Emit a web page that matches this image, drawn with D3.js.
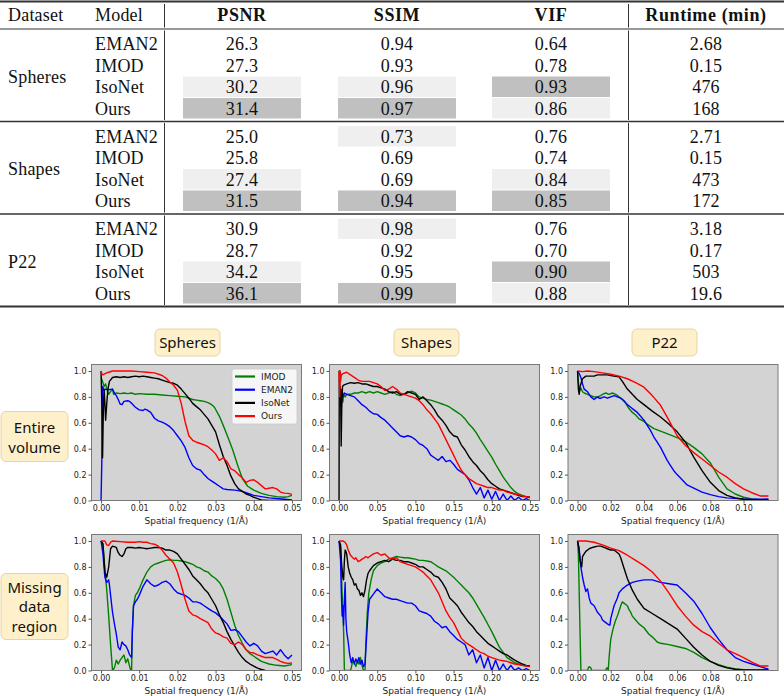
<!DOCTYPE html>
<html><head><meta charset="utf-8">
<script src="https://cdn.jsdelivr.net/npm/d3@7"></script>
<style>body{margin:0;background:#fff}svg{display:block}</style>
</head><body>
<svg id="c" width="784" height="696"></svg>
<script>
// ---------------- TABLE DATA ----------------
const datasets = ["Spheres", "Shapes", "P22"];
const models = ["EMAN2", "IMOD", "IsoNet", "Ours"];
const headers = ["PSNR", "SSIM", "VIF", "Runtime (min)"];
const psnr = [[26.3, 27.3, 30.2, 31.4], [25.0, 25.8, 27.4, 31.5], [30.9, 28.7, 34.2, 36.1]];
const ssim = [[0.94, 0.93, 0.96, 0.97], [0.73, 0.69, 0.69, 0.94], [0.98, 0.92, 0.95, 0.99]];
const vif = [[0.64, 0.78, 0.93, 0.86], [0.76, 0.74, 0.84, 0.85], [0.76, 0.70, 0.90, 0.88]];
const runtime = [["2.68", "0.15", "476", "168"], ["2.71", "0.15", "473", "172"], ["3.18", "0.17", "503", "19.6"]];

// ---------------- CURVE DATA ([frequency, value]) ----------------
const seriesNames = ["IMOD", "EMAN2", "IsoNet", "Ours"];
const panelCols = ["Spheres", "Shapes", "P22"];
const panelRows = [["Entire", "volume"], ["Missing", "data", "region"]];
const xMax = [0.05, 0.25, 0.115];
const xTicks = [[0, 0.01, 0.02, 0.03, 0.04, 0.05], [0, 0.05, 0.10, 0.15, 0.20, 0.25], [0, 0.02, 0.04, 0.06, 0.08, 0.10]];
const yTicks = [0, 0.2, 0.4, 0.6, 0.8, 1.0];

const sphVolIMOD = [[0,0.95],[0.0004,0.92],[0.0008,0.88],[0.0012,0.9],[0.0016,0.85],[0.002,0.82],[0.0025,0.84],[0.003,0.86],[0.0033,0.82],[0.004,0.83],[0.005,0.825],[0.006,0.83],[0.007,0.825],[0.008,0.83],[0.009,0.82],[0.01,0.825],[0.012,0.82],[0.014,0.82],[0.016,0.815],[0.018,0.81],[0.02,0.805],[0.022,0.8],[0.024,0.78],[0.025,0.775],[0.026,0.77],[0.027,0.765],[0.028,0.755],[0.029,0.74],[0.0297,0.72],[0.031,0.65],[0.032,0.58],[0.0332,0.49],[0.0345,0.39],[0.0358,0.27],[0.037,0.17],[0.0384,0.11],[0.04,0.08],[0.042,0.055],[0.044,0.04],[0.046,0.03],[0.048,0.025],[0.049,0.03],[0.05,0.04]];
const sphVolEMAN2 = [[0,0],[0.0002,0.3],[0.0004,0.88],[0.0008,0.85],[0.0012,0.86],[0.002,0.855],[0.003,0.86],[0.0035,0.83],[0.004,0.81],[0.0045,0.78],[0.005,0.745],[0.0055,0.74],[0.006,0.765],[0.007,0.77],[0.0075,0.765],[0.008,0.75],[0.009,0.72],[0.01,0.7],[0.011,0.695],[0.0115,0.705],[0.012,0.7],[0.013,0.68],[0.014,0.635],[0.015,0.615],[0.016,0.605],[0.017,0.59],[0.018,0.57],[0.019,0.54],[0.02,0.5],[0.021,0.46],[0.022,0.41],[0.023,0.33],[0.024,0.27],[0.025,0.245],[0.026,0.235],[0.027,0.2],[0.028,0.17],[0.029,0.15],[0.03,0.13],[0.031,0.11],[0.032,0.09],[0.033,0.085],[0.035,0.08],[0.037,0.07],[0.038,0.06],[0.04,0.04],[0.042,0.03],[0.044,0.02],[0.046,0.015],[0.048,0.01],[0.05,0.005]];
const sphVolIsoNet = [[0,1.0],[0.0002,0.75],[0.0004,0.33],[0.0006,0.7],[0.0008,0.86],[0.001,0.75],[0.0012,0.62],[0.0015,0.75],[0.0018,0.86],[0.0022,0.92],[0.003,0.95],[0.004,0.955],[0.005,0.95],[0.006,0.955],[0.007,0.95],[0.008,0.955],[0.009,0.96],[0.01,0.955],[0.011,0.96],[0.012,0.955],[0.013,0.95],[0.014,0.945],[0.015,0.94],[0.016,0.93],[0.017,0.92],[0.018,0.91],[0.019,0.905],[0.02,0.89],[0.021,0.86],[0.022,0.825],[0.023,0.79],[0.024,0.75],[0.025,0.725],[0.026,0.7],[0.027,0.665],[0.028,0.63],[0.029,0.58],[0.03,0.53],[0.031,0.43],[0.032,0.34],[0.033,0.27],[0.034,0.19],[0.035,0.13],[0.036,0.09],[0.037,0.07],[0.038,0.05],[0.039,0.04],[0.04,0.025],[0.041,0.015],[0.042,0.005],[0.044,0.0],[0.05,0.0]];
const sphVolOurs = [[0,1.0],[0.0003,0.97],[0.0008,0.975],[0.0015,0.985],[0.002,0.99],[0.003,1.0],[0.005,1.0],[0.008,1.0],[0.01,0.995],[0.012,0.99],[0.014,0.985],[0.016,0.965],[0.017,0.945],[0.018,0.915],[0.019,0.89],[0.02,0.85],[0.021,0.75],[0.022,0.61],[0.023,0.5],[0.024,0.465],[0.025,0.45],[0.026,0.44],[0.027,0.43],[0.028,0.415],[0.029,0.39],[0.03,0.36],[0.031,0.31],[0.032,0.33],[0.033,0.3],[0.034,0.245],[0.035,0.23],[0.036,0.2],[0.037,0.175],[0.038,0.14],[0.039,0.155],[0.04,0.16],[0.041,0.14],[0.042,0.115],[0.043,0.09],[0.044,0.095],[0.045,0.1],[0.046,0.09],[0.047,0.065],[0.048,0.057],[0.049,0.055],[0.05,0.047]];

const sphMisIMOD = [[0,1.0],[0.0005,0.97],[0.001,0.78],[0.0015,0.62],[0.002,0.42],[0.0025,0.2],[0.003,0.0],[0.0035,0.02],[0.004,0.08],[0.0045,0.05],[0.005,0.08],[0.0055,0.1],[0.006,0.12],[0.0065,0.06],[0.007,0.09],[0.0075,0.03],[0.0078,0.0],[0.008,0.0],[0.0082,0.3],[0.0085,0.5],[0.009,0.58],[0.0095,0.6],[0.01,0.63],[0.011,0.7],[0.012,0.76],[0.013,0.8],[0.014,0.82],[0.015,0.83],[0.016,0.84],[0.017,0.85],[0.018,0.855],[0.019,0.85],[0.02,0.85],[0.021,0.845],[0.022,0.84],[0.023,0.83],[0.024,0.82],[0.025,0.8],[0.026,0.79],[0.027,0.77],[0.028,0.76],[0.029,0.73],[0.03,0.71],[0.031,0.68],[0.032,0.63],[0.033,0.55],[0.034,0.45],[0.035,0.35],[0.036,0.27],[0.037,0.21],[0.038,0.16],[0.039,0.13],[0.04,0.11],[0.041,0.09],[0.042,0.07],[0.044,0.05],[0.046,0.04],[0.048,0.035],[0.05,0.045]];
const sphMisEMAN2 = [[0,1.0],[0.0005,0.9],[0.001,0.72],[0.0015,0.68],[0.002,0.7],[0.0022,0.66],[0.0025,0.58],[0.003,0.45],[0.0035,0.36],[0.004,0.28],[0.0045,0.18],[0.005,0.16],[0.0055,0.22],[0.006,0.2],[0.0065,0.19],[0.007,0.16],[0.0075,0.12],[0.008,0.1],[0.0082,0.3],[0.0085,0.5],[0.009,0.53],[0.0095,0.55],[0.01,0.58],[0.011,0.65],[0.012,0.7],[0.013,0.67],[0.014,0.65],[0.015,0.66],[0.016,0.68],[0.017,0.69],[0.018,0.67],[0.019,0.63],[0.02,0.6],[0.021,0.59],[0.022,0.58],[0.023,0.56],[0.024,0.53],[0.025,0.53],[0.026,0.52],[0.027,0.5],[0.028,0.48],[0.029,0.46],[0.03,0.445],[0.031,0.42],[0.032,0.39],[0.033,0.36],[0.034,0.31],[0.035,0.315],[0.036,0.3],[0.037,0.26],[0.038,0.22],[0.039,0.19],[0.04,0.21],[0.041,0.19],[0.042,0.15],[0.043,0.13],[0.044,0.14],[0.045,0.15],[0.046,0.12],[0.047,0.16],[0.048,0.12],[0.049,0.09],[0.05,0.12]];
const sphMisIsoNet = [[0,1.0],[0.0005,0.98],[0.001,0.76],[0.0015,0.72],[0.002,0.8],[0.0025,0.94],[0.003,0.96],[0.004,0.95],[0.0045,0.91],[0.005,0.89],[0.0055,0.88],[0.006,0.9],[0.0065,0.94],[0.007,0.95],[0.008,0.95],[0.009,0.945],[0.01,0.95],[0.011,0.945],[0.012,0.94],[0.013,0.945],[0.014,0.95],[0.015,0.95],[0.016,0.945],[0.017,0.93],[0.018,0.93],[0.019,0.92],[0.02,0.9],[0.021,0.86],[0.022,0.82],[0.023,0.78],[0.024,0.73],[0.025,0.7],[0.026,0.67],[0.027,0.63],[0.028,0.6],[0.029,0.55],[0.03,0.5],[0.031,0.43],[0.032,0.37],[0.033,0.3],[0.034,0.24],[0.035,0.19],[0.036,0.14],[0.037,0.1],[0.038,0.07],[0.039,0.05],[0.04,0.033],[0.041,0.018],[0.042,0.008],[0.043,0.0]];
const sphMisOurs = [[0,1.0],[0.001,1.0],[0.0015,0.97],[0.002,0.965],[0.0025,0.99],[0.003,1.0],[0.005,0.995],[0.007,0.99],[0.009,0.99],[0.01,0.995],[0.011,0.99],[0.012,0.99],[0.013,0.98],[0.014,0.975],[0.015,0.96],[0.016,0.93],[0.017,0.89],[0.018,0.86],[0.019,0.83],[0.02,0.76],[0.021,0.66],[0.022,0.55],[0.023,0.46],[0.024,0.43],[0.025,0.42],[0.026,0.4],[0.027,0.385],[0.028,0.37],[0.029,0.32],[0.03,0.29],[0.031,0.28],[0.032,0.26],[0.033,0.25],[0.034,0.21],[0.035,0.2],[0.036,0.22],[0.037,0.2],[0.038,0.16],[0.039,0.14],[0.04,0.135],[0.041,0.12],[0.042,0.11],[0.043,0.1],[0.044,0.1],[0.045,0.1],[0.046,0.085],[0.047,0.07],[0.048,0.06],[0.049,0.055],[0.05,0.058]];

const shpVolIMOD = [[0.002,0.78],[0.003,0.8],[0.004,0.84],[0.005,0.76],[0.006,0.82],[0.008,0.8],[0.01,0.82],[0.015,0.82],[0.02,0.83],[0.025,0.83],[0.03,0.84],[0.035,0.83],[0.04,0.84],[0.045,0.83],[0.05,0.84],[0.055,0.83],[0.06,0.82],[0.065,0.83],[0.07,0.84],[0.075,0.82],[0.08,0.81],[0.085,0.82],[0.09,0.83],[0.095,0.845],[0.1,0.83],[0.105,0.8],[0.11,0.79],[0.115,0.78],[0.12,0.775],[0.125,0.765],[0.13,0.755],[0.135,0.745],[0.14,0.735],[0.145,0.72],[0.15,0.7],[0.155,0.68],[0.16,0.66],[0.165,0.63],[0.17,0.59],[0.175,0.56],[0.18,0.52],[0.185,0.47],[0.19,0.425],[0.195,0.38],[0.2,0.335],[0.205,0.28],[0.21,0.23],[0.215,0.18],[0.22,0.14],[0.225,0.1],[0.23,0.07],[0.235,0.05],[0.24,0.04],[0.245,0.03],[0.25,0.02]];
const shpVolEMAN2 = [[0.001,0.8],[0.002,0.78],[0.003,0.82],[0.004,0.86],[0.005,0.8],[0.007,0.83],[0.01,0.82],[0.015,0.81],[0.02,0.8],[0.025,0.77],[0.03,0.74],[0.035,0.72],[0.04,0.69],[0.045,0.67],[0.05,0.665],[0.055,0.64],[0.06,0.62],[0.065,0.59],[0.07,0.56],[0.075,0.53],[0.08,0.5],[0.085,0.49],[0.09,0.5],[0.095,0.49],[0.1,0.47],[0.105,0.44],[0.11,0.425],[0.115,0.4],[0.12,0.35],[0.125,0.33],[0.13,0.31],[0.135,0.34],[0.14,0.3],[0.145,0.31],[0.15,0.28],[0.155,0.24],[0.16,0.22],[0.165,0.2],[0.17,0.16],[0.175,0.1],[0.18,0.05],[0.185,0.1],[0.19,0.02],[0.195,0.08],[0.2,0.01],[0.205,0.07],[0.21,0.0],[0.215,0.05],[0.22,0.0],[0.225,0.035],[0.23,0.0],[0.235,0.025],[0.24,0.0],[0.245,0.015],[0.25,0.0]];
const shpVolIsoNet = [[0,0.0],[0.0003,1.0],[0.001,0.88],[0.002,0.85],[0.0028,0.42],[0.0035,0.7],[0.0045,0.88],[0.006,0.89],[0.01,0.9],[0.015,0.91],[0.02,0.905],[0.025,0.91],[0.03,0.9],[0.035,0.9],[0.04,0.89],[0.045,0.88],[0.05,0.88],[0.055,0.87],[0.06,0.86],[0.065,0.84],[0.07,0.83],[0.075,0.84],[0.08,0.82],[0.085,0.82],[0.09,0.84],[0.095,0.83],[0.1,0.82],[0.105,0.78],[0.11,0.8],[0.115,0.77],[0.12,0.74],[0.125,0.7],[0.13,0.65],[0.135,0.62],[0.14,0.58],[0.145,0.53],[0.15,0.5],[0.155,0.49],[0.16,0.43],[0.165,0.39],[0.17,0.34],[0.175,0.3],[0.18,0.27],[0.185,0.23],[0.19,0.2],[0.195,0.16],[0.2,0.13],[0.205,0.11],[0.21,0.09],[0.215,0.08],[0.22,0.07],[0.225,0.06],[0.23,0.05],[0.235,0.04],[0.24,0.03],[0.245,0.03],[0.25,0.025]];
const shpVolOurs = [[0,1.0],[0.001,0.8],[0.0015,1.0],[0.002,0.92],[0.003,0.97],[0.005,0.98],[0.01,0.99],[0.015,0.97],[0.02,0.95],[0.025,0.93],[0.03,0.92],[0.035,0.92],[0.04,0.92],[0.045,0.91],[0.05,0.9],[0.055,0.88],[0.06,0.85],[0.065,0.86],[0.07,0.88],[0.075,0.86],[0.08,0.83],[0.085,0.82],[0.09,0.81],[0.095,0.8],[0.1,0.79],[0.105,0.77],[0.11,0.74],[0.115,0.7],[0.12,0.67],[0.125,0.63],[0.13,0.59],[0.135,0.53],[0.14,0.47],[0.145,0.41],[0.15,0.35],[0.155,0.29],[0.16,0.235],[0.165,0.2],[0.17,0.17],[0.175,0.15],[0.18,0.13],[0.185,0.12],[0.19,0.11],[0.195,0.1],[0.2,0.1],[0.205,0.09],[0.21,0.08],[0.215,0.08],[0.22,0.065],[0.225,0.06],[0.23,0.05],[0.235,0.045],[0.24,0.035],[0.245,0.03],[0.25,0.025]];

const shpMisIMOD = [[0,1.0],[0.002,0.95],[0.003,0.8],[0.004,0.6],[0.005,0.45],[0.006,0.3],[0.007,0.0],[0.015,0.0],[0.016,0.02],[0.018,0.08],[0.02,0.06],[0.022,0.03],[0.024,0.07],[0.026,0.05],[0.028,0.1],[0.03,0.04],[0.032,0.0],[0.034,0.0],[0.035,0.2],[0.037,0.45],[0.039,0.6],[0.042,0.7],[0.045,0.77],[0.05,0.81],[0.055,0.83],[0.06,0.84],[0.065,0.86],[0.07,0.87],[0.075,0.88],[0.08,0.875],[0.085,0.87],[0.09,0.87],[0.095,0.865],[0.1,0.86],[0.105,0.85],[0.11,0.85],[0.115,0.845],[0.12,0.84],[0.125,0.82],[0.13,0.8],[0.135,0.785],[0.14,0.77],[0.145,0.745],[0.15,0.72],[0.155,0.69],[0.16,0.66],[0.165,0.63],[0.17,0.6],[0.175,0.56],[0.18,0.51],[0.185,0.46],[0.19,0.41],[0.195,0.355],[0.2,0.3],[0.205,0.24],[0.21,0.18],[0.215,0.14],[0.22,0.1],[0.225,0.08],[0.23,0.06],[0.235,0.05],[0.24,0.04],[0.245,0.035],[0.25,0.03]];
const shpMisEMAN2 = [[0,1.0],[0.002,0.85],[0.003,0.6],[0.004,0.42],[0.005,0.5],[0.006,0.35],[0.007,0.55],[0.008,0.68],[0.009,0.4],[0.01,0.3],[0.012,0.22],[0.014,0.12],[0.016,0.06],[0.018,0.1],[0.02,0.05],[0.022,0.09],[0.024,0.06],[0.026,0.1],[0.028,0.05],[0.03,0.08],[0.032,0.03],[0.034,0.05],[0.036,0.25],[0.038,0.45],[0.04,0.55],[0.045,0.59],[0.05,0.63],[0.055,0.6],[0.06,0.57],[0.065,0.56],[0.07,0.55],[0.075,0.55],[0.08,0.54],[0.085,0.53],[0.09,0.52],[0.095,0.52],[0.1,0.5],[0.105,0.46],[0.11,0.45],[0.115,0.44],[0.12,0.42],[0.125,0.38],[0.13,0.36],[0.135,0.33],[0.14,0.34],[0.145,0.3],[0.15,0.27],[0.155,0.24],[0.16,0.22],[0.165,0.2],[0.17,0.12],[0.175,0.16],[0.18,0.06],[0.185,0.12],[0.19,0.02],[0.195,0.1],[0.2,0.0],[0.205,0.08],[0.21,0.0],[0.215,0.05],[0.22,0.0],[0.225,0.04],[0.23,0.0],[0.235,0.02],[0.24,0.0],[0.245,0.015],[0.25,0.0]];
const shpMisIsoNet = [[0,1.0],[0.002,0.97],[0.003,0.85],[0.004,0.78],[0.005,0.72],[0.006,0.7],[0.007,0.85],[0.008,0.93],[0.009,0.92],[0.01,0.9],[0.011,0.85],[0.012,0.8],[0.014,0.75],[0.016,0.72],[0.018,0.7],[0.02,0.66],[0.022,0.67],[0.024,0.63],[0.026,0.62],[0.028,0.58],[0.03,0.6],[0.032,0.57],[0.034,0.62],[0.036,0.7],[0.038,0.75],[0.04,0.77],[0.045,0.81],[0.05,0.83],[0.055,0.84],[0.06,0.85],[0.065,0.84],[0.07,0.86],[0.075,0.85],[0.08,0.85],[0.085,0.84],[0.09,0.84],[0.095,0.83],[0.1,0.82],[0.105,0.8],[0.11,0.8],[0.115,0.78],[0.12,0.76],[0.125,0.73],[0.13,0.72],[0.135,0.68],[0.14,0.63],[0.145,0.56],[0.15,0.53],[0.155,0.5],[0.16,0.45],[0.165,0.41],[0.17,0.37],[0.175,0.34],[0.18,0.3],[0.185,0.27],[0.19,0.24],[0.195,0.21],[0.2,0.19],[0.205,0.17],[0.21,0.15],[0.215,0.13],[0.22,0.12],[0.225,0.1],[0.23,0.08],[0.235,0.065],[0.24,0.05],[0.245,0.04],[0.25,0.035]];
const shpMisOurs = [[0,1.0],[0.005,1.0],[0.008,0.99],[0.01,0.97],[0.012,0.93],[0.015,0.89],[0.018,0.87],[0.02,0.86],[0.022,0.87],[0.025,0.84],[0.028,0.85],[0.03,0.86],[0.033,0.87],[0.035,0.88],[0.038,0.87],[0.04,0.88],[0.045,0.9],[0.05,0.91],[0.055,0.89],[0.06,0.9],[0.065,0.87],[0.07,0.86],[0.075,0.87],[0.08,0.84],[0.085,0.83],[0.09,0.82],[0.095,0.81],[0.1,0.8],[0.105,0.78],[0.11,0.76],[0.115,0.73],[0.12,0.7],[0.125,0.65],[0.13,0.6],[0.135,0.53],[0.14,0.46],[0.145,0.41],[0.15,0.37],[0.155,0.31],[0.16,0.25],[0.165,0.22],[0.17,0.2],[0.175,0.18],[0.18,0.16],[0.185,0.14],[0.19,0.13],[0.195,0.11],[0.2,0.1],[0.205,0.09],[0.21,0.08],[0.215,0.075],[0.22,0.07],[0.225,0.06],[0.23,0.05],[0.235,0.045],[0.24,0.04],[0.245,0.035],[0.25,0.03]];

const p22VolIMOD = [[0,1.0],[0.0005,0.92],[0.001,0.84],[0.0015,0.85],[0.002,0.87],[0.003,0.84],[0.004,0.83],[0.006,0.82],[0.008,0.81],[0.01,0.8],[0.012,0.8],[0.014,0.81],[0.015,0.82],[0.017,0.83],[0.019,0.82],[0.021,0.83],[0.023,0.82],[0.025,0.8],[0.027,0.78],[0.029,0.75],[0.031,0.71],[0.033,0.68],[0.035,0.66],[0.037,0.63],[0.04,0.61],[0.043,0.58],[0.046,0.555],[0.05,0.535],[0.055,0.51],[0.06,0.485],[0.065,0.455],[0.07,0.41],[0.075,0.36],[0.08,0.29],[0.085,0.18],[0.09,0.09],[0.095,0.05],[0.1,0.025],[0.105,0.012],[0.11,0.007],[0.115,0.005]];
const p22VolEMAN2 = [[0,1.0],[0.001,0.98],[0.002,0.95],[0.003,0.9],[0.004,0.86],[0.005,0.85],[0.006,0.84],[0.007,0.82],[0.008,0.8],[0.009,0.79],[0.01,0.78],[0.011,0.79],[0.012,0.8],[0.013,0.79],[0.014,0.79],[0.016,0.8],[0.018,0.79],[0.02,0.8],[0.022,0.81],[0.024,0.8],[0.026,0.79],[0.028,0.77],[0.03,0.74],[0.032,0.72],[0.034,0.7],[0.036,0.68],[0.038,0.65],[0.04,0.62],[0.042,0.58],[0.044,0.54],[0.046,0.49],[0.048,0.45],[0.05,0.41],[0.052,0.36],[0.054,0.31],[0.056,0.27],[0.058,0.23],[0.06,0.2],[0.063,0.16],[0.066,0.12],[0.07,0.095],[0.075,0.065],[0.08,0.045],[0.085,0.03],[0.09,0.02],[0.1,0.012],[0.11,0.01],[0.115,0.012]];
const p22VolIsoNet = [[0,1.0],[0.0005,0.86],[0.001,0.82],[0.0015,0.88],[0.002,0.9],[0.003,0.94],[0.005,0.96],[0.008,0.96],[0.01,0.96],[0.012,0.97],[0.015,0.97],[0.018,0.97],[0.02,0.965],[0.022,0.96],[0.025,0.955],[0.027,0.92],[0.03,0.86],[0.033,0.82],[0.036,0.78],[0.04,0.74],[0.045,0.69],[0.05,0.645],[0.055,0.59],[0.06,0.53],[0.065,0.45],[0.07,0.335],[0.075,0.23],[0.08,0.14],[0.085,0.077],[0.09,0.04],[0.095,0.02],[0.1,0.01],[0.105,0.005],[0.11,0.005],[0.115,0.005]];
const p22VolOurs = [[0,1.0],[0.003,0.995],[0.006,1.0],[0.01,0.995],[0.015,0.985],[0.02,0.975],[0.025,0.96],[0.03,0.94],[0.035,0.91],[0.04,0.875],[0.045,0.81],[0.05,0.735],[0.055,0.62],[0.06,0.5],[0.065,0.425],[0.07,0.37],[0.075,0.32],[0.08,0.27],[0.085,0.22],[0.09,0.18],[0.095,0.13],[0.1,0.09],[0.105,0.06],[0.11,0.035],[0.115,0.035]];

const p22MisIMOD = [[0,1.0],[0.0005,0.9],[0.001,0.6],[0.0015,0.3],[0.002,0.0],[0.006,0.0],[0.0065,0.02],[0.007,0.03],[0.008,0.02],[0.0085,0.0],[0.017,0.0],[0.0175,0.02],[0.018,0.02],[0.0185,0.0],[0.019,0.1],[0.02,0.24],[0.021,0.3],[0.022,0.35],[0.023,0.39],[0.024,0.42],[0.025,0.46],[0.026,0.5],[0.027,0.53],[0.028,0.52],[0.029,0.51],[0.03,0.5],[0.031,0.47],[0.032,0.45],[0.033,0.42],[0.035,0.39],[0.037,0.36],[0.04,0.33],[0.043,0.28],[0.045,0.26],[0.048,0.22],[0.05,0.21],[0.055,0.2],[0.06,0.185],[0.065,0.17],[0.07,0.14],[0.075,0.1],[0.08,0.07],[0.085,0.045],[0.09,0.025],[0.095,0.012],[0.1,0.006],[0.105,0.003],[0.11,0.002],[0.115,0.002]];
const p22MisEMAN2 = [[0,1.0],[0.001,0.93],[0.002,0.8],[0.003,0.72],[0.004,0.66],[0.005,0.61],[0.006,0.63],[0.007,0.56],[0.008,0.52],[0.01,0.5],[0.012,0.45],[0.014,0.42],[0.015,0.39],[0.017,0.37],[0.0185,0.355],[0.0195,0.35],[0.02,0.4],[0.022,0.5],[0.024,0.56],[0.025,0.6],[0.027,0.63],[0.03,0.66],[0.033,0.68],[0.036,0.69],[0.04,0.7],[0.045,0.7],[0.05,0.68],[0.055,0.67],[0.06,0.66],[0.065,0.6],[0.07,0.535],[0.075,0.44],[0.08,0.33],[0.085,0.24],[0.09,0.16],[0.095,0.1],[0.1,0.07],[0.105,0.05],[0.11,0.03],[0.115,0.01]];
const p22MisIsoNet = [[0,1.0],[0.0008,0.95],[0.0015,0.85],[0.0025,0.8],[0.003,0.88],[0.004,0.9],[0.005,0.92],[0.007,0.94],[0.009,0.95],[0.012,0.96],[0.014,0.96],[0.016,0.95],[0.018,0.94],[0.02,0.93],[0.022,0.93],[0.025,0.9],[0.026,0.87],[0.027,0.83],[0.028,0.79],[0.03,0.71],[0.033,0.62],[0.036,0.55],[0.04,0.48],[0.045,0.44],[0.05,0.4],[0.055,0.36],[0.06,0.32],[0.065,0.25],[0.07,0.18],[0.075,0.12],[0.08,0.07],[0.085,0.04],[0.09,0.02],[0.095,0.01],[0.1,0.005],[0.11,0.005],[0.115,0.005]];
const p22MisOurs = [[0,1.0],[0.005,1.0],[0.01,0.99],[0.015,0.97],[0.02,0.945],[0.025,0.925],[0.03,0.89],[0.035,0.85],[0.04,0.81],[0.045,0.76],[0.05,0.69],[0.055,0.6],[0.06,0.5],[0.065,0.42],[0.07,0.35],[0.075,0.3],[0.08,0.265],[0.085,0.21],[0.09,0.16],[0.095,0.13],[0.1,0.1],[0.105,0.065],[0.11,0.035],[0.115,0.035]];

const panelSeries = [
  [[sphVolIMOD, sphVolEMAN2, sphVolIsoNet, sphVolOurs], [shpVolIMOD, shpVolEMAN2, shpVolIsoNet, shpVolOurs], [p22VolIMOD, p22VolEMAN2, p22VolIsoNet, p22VolOurs]],
  [[sphMisIMOD, sphMisEMAN2, sphMisIsoNet, sphMisOurs], [shpMisIMOD, shpMisEMAN2, shpMisIsoNet, shpMisOurs], [p22MisIMOD, p22MisEMAN2, p22MisIsoNet, p22MisOurs]]
];

// ---------------- STYLE / LAYOUT ----------------
const colors = ["green", "blue", "black", "red"];
const svg = d3.select("#c");
const serif = "'Liberation Serif', 'Times New Roman', serif";
const sans = "'DejaVu Sans', sans-serif";
const badgeFont = "'Noto Sans', 'DejaVu Sans', sans-serif";

// ---- table ----
const T = svg.append("g");
const metricX = [242, 397, 551, 706];
const groupTop = [29, 121.5, 214];
const rowY = (g, i) => groupTop[g] + 15 + i * 21.5;

// highlight cells: darkest = best, light = second best
[psnr, ssim, vif].forEach((m, mi) => {
  m.forEach((vals, g) => {
    const order = vals.map((v, i) => [v, i]).sort((a, b) => b[0] - a[0]);
    [[order[0][1], "#c0c0c0"], [order[1][1], "#efefef"]].forEach(([idx, fill]) => {
      T.append("rect").attr("x", metricX[mi] - 59).attr("y", rowY(g, idx) - 10.5)
        .attr("width", 118).attr("height", 20.5).attr("fill", fill);
    });
  });
});

// rules
[[1.5, 2], [29, 1], [121.5, 1.6], [214, 1.6], [306.5, 2]].forEach(([y, w]) => {
  T.append("line").attr("x1", 0).attr("x2", 784).attr("y1", y).attr("y2", y)
    .attr("stroke", "#333").attr("stroke-width", w);
});
[164.5, 628.5].forEach(x => {
  [[4, 27.5], [30.5, 120], [123, 212.5], [215.5, 305]].forEach(([a, b]) => {
    T.append("line").attr("x1", x).attr("x2", x).attr("y1", a).attr("y2", b)
      .attr("stroke", "#333").attr("stroke-width", 1);
  });
});

const txt = (g, x, y, s, anchor, weight) => g.append("text").attr("x", x).attr("y", y)
  .attr("dy", "0.35em").attr("text-anchor", anchor).attr("font-family", serif)
  .attr("font-size", 18).attr("font-weight", weight || "normal")
  .attr("letter-spacing", weight === "bold" ? 0.6 : 0.2).attr("fill", "#111").text(s);

txt(T, 8, 14.5, "Dataset", "start");
txt(T, 95, 14.5, "Model", "start");
headers.forEach((h, i) => txt(T, metricX[i], 14.5, h, "middle", "bold"));

datasets.forEach((d, g) => {
  txt(T, 8, (rowY(g, 1) + rowY(g, 2)) / 2, d, "start");
  models.forEach((m, i) => {
    const y = rowY(g, i);
    txt(T, 95, y, m, "start");
    txt(T, metricX[0], y, psnr[g][i].toFixed(1), "middle");
    txt(T, metricX[1], y, ssim[g][i].toFixed(2), "middle");
    txt(T, metricX[2], y, vif[g][i].toFixed(2), "middle");
    txt(T, metricX[3], y, runtime[g][i], "middle");
  });
});

// ---- badges ----
const badge = (x, y, w, h, lines, cy, lh) => {
  svg.append("rect").attr("x", x).attr("y", y).attr("width", w).attr("height", h)
    .attr("rx", 5).attr("fill", "#fdf0ca").attr("stroke", "#e8d49c").attr("stroke-width", 1);
  lines.forEach((l, i) => svg.append("text").attr("x", x + w / 2).attr("y", cy + i * lh)
    .attr("dy", "0.35em").attr("text-anchor", "middle").attr("font-family", badgeFont)
    .attr("font-size", 15).attr("fill", "#111").text(l));
};
const colLeft = [91.5, 329.5, 568];
const plotW = 210, plotH = 136;
const rowTop = [364.5, 534.5];
const colBadgeX = [155, 394, 632];
panelCols.forEach((c, i) => badge(colBadgeX[i], 329, 65, 27, [c], 342.5, 0));
badge(1, 411.5, 67, 50, panelRows[0], 427.5, 20);
badge(1, 573.5, 67, 66, panelRows[1], 587.5, 19.5);

// ---- panels ----
const line = d3.line();
panelSeries.forEach((rowArr, r) => {
  rowArr.forEach((series, c) => {
    const left = colLeft[c], top = rowTop[r], bottom = top + plotH;
    const x = d3.scaleLinear().domain([-0.05 * xMax[c], 1.05 * xMax[c]]).range([left, left + plotW]);
    const y = d3.scaleLinear().domain([0, 1.05]).range([bottom, top]);
    const id = "clip" + r + c;
    svg.append("clipPath").attr("id", id).append("rect")
      .attr("x", left).attr("y", top).attr("width", plotW).attr("height", plotH);
    svg.append("rect").attr("x", left).attr("y", top).attr("width", plotW).attr("height", plotH)
      .attr("fill", "#d3d3d3");
    const g = svg.append("g").attr("clip-path", `url(#${id})`);
    series.forEach((s, k) => {
      g.append("path").attr("d", line(s.map(p => [x(p[0]), y(p[1])])))
        .attr("fill", "none").attr("stroke", colors[k]).attr("stroke-width", 1.4)
        .attr("stroke-linejoin", "round");
    });
    svg.append("rect").attr("x", left).attr("y", top).attr("width", plotW).attr("height", plotH)
      .attr("fill", "none").attr("stroke", "#7a7a7a").attr("stroke-width", 1);

    const ax = svg.append("g").attr("transform", `translate(0,${bottom})`)
      .call(d3.axisBottom(x).tickValues(xTicks[c]).tickFormat(d3.format(".2f")).tickSize(3).tickPadding(2));
    const ay = svg.append("g").attr("transform", `translate(${left},0)`)
      .call(d3.axisLeft(y).tickValues(yTicks).tickFormat(d3.format(".1f")).tickSize(3).tickPadding(2));
    [ax, ay].forEach(a => {
      a.select(".domain").remove();
      a.selectAll("line").attr("stroke", "#555");
      a.selectAll("text").attr("font-family", sans).attr("font-size", 8).attr("fill", "#222");
    });
    svg.append("text").attr("x", left + plotW / 2).attr("y", bottom + 20.5).attr("dy", "0.35em")
      .attr("text-anchor", "middle").attr("font-family", sans).attr("font-size", 9).attr("fill", "#222")
      .text("Spatial frequency (1/Å)");

    if (r === 0 && c === 0) {
      const lg = svg.append("g");
      lg.append("rect").attr("x", left + 140.5).attr("y", top + 4.5).attr("width", 65).attr("height", 55)
        .attr("rx", 2.5).attr("fill", "rgba(255,255,255,0.8)").attr("stroke", "#cccccc").attr("stroke-width", 0.8);
      seriesNames.forEach((n, k) => {
        const ly = top + 12 + k * 13.2;
        lg.append("line").attr("x1", left + 143.5).attr("x2", left + 163.5).attr("y1", ly).attr("y2", ly)
          .attr("stroke", colors[k]).attr("stroke-width", 2.2);
        lg.append("text").attr("x", left + 169.5).attr("y", ly).attr("dy", "0.35em")
          .attr("font-family", sans).attr("font-size", 9).attr("fill", "#222").text(n);
      });
    }
  });
});
</script>
</body></html>
